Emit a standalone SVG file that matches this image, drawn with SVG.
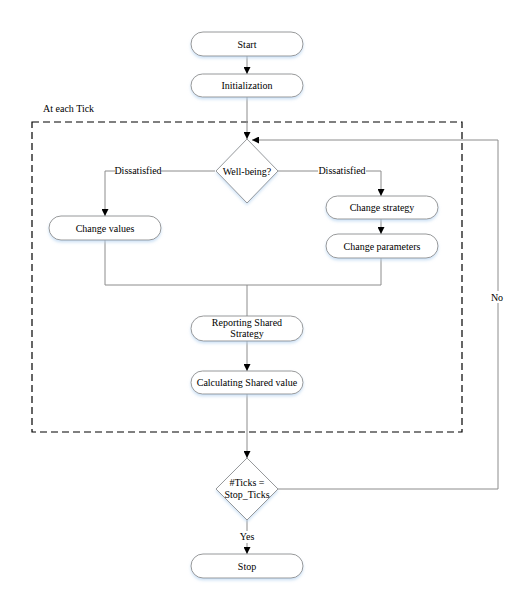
<svg xmlns="http://www.w3.org/2000/svg" width="520" height="600" viewBox="0 0 520 600">
<style>
text{font-family:"Liberation Serif","Times New Roman",serif;font-size:10px;fill:#000}
.n{fill:#fff;stroke:#7f7f7f;stroke-width:0.8;filter:url(#sh)}
.c{fill:none;stroke:#8c8c8c;stroke-width:1}
.t{text-anchor:middle}
</style>
<defs>
<filter id="sh" x="-10%" y="-20%" width="120%" height="150%">
<feDropShadow dx="0" dy="2" stdDeviation="1.5" flood-color="#b8d4f0" flood-opacity="0.7"/>
</filter>
<marker id="a" viewBox="0 0 10 10" refX="10" refY="5" markerWidth="7" markerHeight="7" orient="auto" markerUnits="userSpaceOnUse">
<path d="M0,0 L10,5 L0,10 z" fill="#000"/>
</marker>
</defs>
<rect width="520" height="600" fill="#fff"/>
<g id="tick-box">
<rect x="32" y="122" width="430" height="310" fill="none" stroke="#000" stroke-width="1.2" stroke-dasharray="7,4"/>
<text x="43" y="112">At each Tick</text>
</g>
<g id="connectors">
<path class="c" d="M247,56 V74" marker-end="url(#a)"/>
<path class="c" d="M247,97 V139" marker-end="url(#a)"/>
<path class="c" d="M215,171 H105 V216" marker-end="url(#a)"/>
<path class="c" d="M278,171 H381 V196" marker-end="url(#a)"/>
<path class="c" d="M381,219 V234" marker-end="url(#a)"/>
<path class="c" d="M105,240 V285 H381 V258"/>
<path class="c" d="M247,285 V316"/>
<path class="c" d="M247,341 V371" marker-end="url(#a)"/>
<path class="c" d="M247,394 V458" marker-end="url(#a)"/>
<path class="c" d="M247,520 V554" marker-end="url(#a)"/>
<path class="c" d="M278,489 H498 V140 H252" marker-end="url(#a)"/>
<rect x="115" y="165" width="46" height="12" fill="#fff"/>
<text x="138" y="174" class="t">Dissatisfied</text>
<rect x="318" y="165" width="48" height="12" fill="#fff"/>
<text x="342" y="174" class="t">Dissatisfied</text>
<rect x="489" y="291" width="18" height="12" fill="#fff"/>
<text x="497" y="301" class="t">No</text>
<rect x="238" y="531" width="18" height="12" fill="#fff"/>
<text x="247" y="540" class="t">Yes</text>
</g>
<g id="start"><rect class="n" x="191" y="32" width="112" height="24" rx="12"/><text class="t" x="247" y="47.5">Start</text></g>
<g id="init"><rect class="n" x="191" y="74" width="112" height="23" rx="11.5"/><text class="t" x="247" y="89">Initialization</text></g>
<g id="wellbeing"><path class="n" d="M247,139 L278,171 L247,203 L216,171 Z"/><text class="t" x="247" y="174.5">Well-being?</text></g>
<g id="change-values"><rect class="n" x="49" y="216" width="112" height="24" rx="12"/><text class="t" x="105" y="231.5">Change values</text></g>
<g id="change-strategy"><rect class="n" x="326" y="196" width="112" height="23" rx="11.5"/><text class="t" x="382" y="211">Change strategy</text></g>
<g id="change-parameters"><rect class="n" x="326" y="234" width="112" height="24" rx="12"/><text class="t" x="382" y="249.5">Change parameters</text></g>
<g id="reporting"><rect class="n" x="191" y="316" width="112" height="25" rx="12.5"/><text class="t" x="247" y="326">Reporting Shared</text><text class="t" x="247" y="337">Strategy</text></g>
<g id="calculating"><rect class="n" x="191" y="371" width="112" height="23" rx="11.5"/><text class="t" x="247" y="386">Calculating Shared value</text></g>
<g id="ticks"><path class="n" d="M247,458 L278,489 L247,520 L216,489 Z"/><text class="t" x="247" y="486">#Ticks =</text><text class="t" x="247" y="498">Stop_Ticks</text></g>
<g id="stop"><rect class="n" x="191" y="554" width="112" height="24" rx="12"/><text class="t" x="247" y="569.5">Stop</text></g>
</svg>
